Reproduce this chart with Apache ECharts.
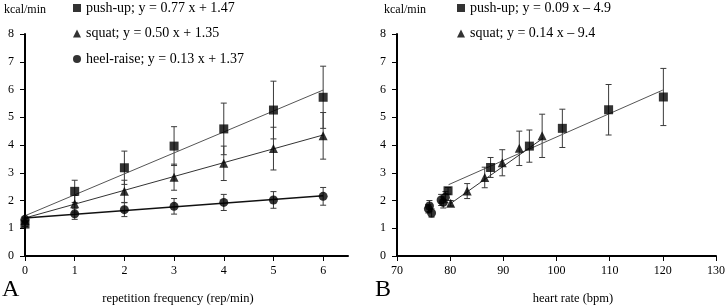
<!DOCTYPE html>
<html><head><meta charset="utf-8">
<script src="https://cdn.jsdelivr.net/npm/echarts@6/dist/echarts.min.js"></script>
<style>html,body{margin:0;padding:0;background:#fff}#c{width:728px;height:306px}</style>
</head><body><div id="c"></div>
<script>
// ---- Panel A data ----
const repFreq = [0, 1, 2, 3, 4, 5, 6];
const pushA = [1.15, 2.33, 3.18, 3.96, 4.58, 5.26, 5.72];
const pushAErr = [0.08, 0.40, 0.60, 0.70, 0.93, 1.04, 1.12];
const squatA = [1.28, 1.88, 2.33, 2.84, 3.34, 3.87, 4.33];
const squatAErr = [0.08, 0.30, 0.40, 0.47, 0.62, 0.77, 0.84];
const heelA = [1.32, 1.52, 1.67, 1.79, 1.93, 2.02, 2.15];
const heelAErr = [0.08, 0.20, 0.25, 0.28, 0.29, 0.30, 0.32];
const pushAFit = [[0, 1.45], [6, 5.98]];
const squatAFit = [[0, 1.37], [6, 4.36]];
const heelAFit = [[0, 1.37], [6, 2.17]];
// ---- Panel B data ----
const pushHR = [79.6, 87.6, 94.9, 101.1, 109.8, 120.1];
const pushB = [2.35, 3.19, 3.96, 4.60, 5.27, 5.73];
const pushBErr = [0.12, 0.36, 0.58, 0.69, 0.91, 1.03];
const squatHR = [80.1, 83.2, 86.5, 89.8, 93.0, 97.3];
const squatB = [1.90, 2.34, 2.83, 3.36, 3.88, 4.33];
const squatBErr = [0.10, 0.27, 0.37, 0.47, 0.62, 0.78];
const heelHR = [75.9, 76.1, 76.5, 78.3, 78.7, 79.1];
const heelB = [1.70, 1.80, 1.55, 2.02, 1.93, 2.12];
const heelBErr = [0.15, 0.20, 0.15, 0.20, 0.20, 0.20];
const pushBFit = [[79.7, 2.57], [120, 5.98]];
const squatBFit = [[80.0, 1.88], [97.5, 4.25]];
// ---- labels ----
const legendA = ['push-up; y = 0.77 x + 1.47', 'squat; y = 0.50 x + 1.35', 'heel-raise; y = 0.13 x + 1.37'];
const legendB = ['push-up; y = 0.09 x – 4.9', 'squat; y = 0.14 x – 9.4'];
const yTicks = [0, 8, 1];
const xTicksA = [0, 6.5, 1];
const xTicksB = [70, 130, 10];

const FONT = '"Liberation Serif", "DejaVu Serif", serif';
const chart = echarts.init(document.getElementById('c'));

function pairs(xs, ys) { return xs.map((x, i) => [x, ys[i]]); }
function errData(xs, ys, es) { return xs.map((x, i) => [x, ys[i], es[i]]); }
function errSeries(xi, data) {
  return {
    type: 'custom', xAxisIndex: xi, yAxisIndex: xi, z: 2, silent: true,
    data: data,
    renderItem: function (params, api) {
      const x = api.value(0), y = api.value(1), e = api.value(2);
      const hi = api.coord([x, y + e]), lo = api.coord([x, y - e]);
      const st = { stroke: '#3a3a3a', lineWidth: 1 };
      const w = 3;
      return { type: 'group', children: [
        { type: 'line', shape: { x1: hi[0], y1: hi[1], x2: lo[0], y2: lo[1] }, style: st },
        { type: 'line', shape: { x1: hi[0] - w, y1: hi[1], x2: hi[0] + w, y2: hi[1] }, style: st },
        { type: 'line', shape: { x1: lo[0] - w, y1: lo[1], x2: lo[0] + w, y2: lo[1] }, style: st }
      ]};
    }
  };
}
function fitSeries(xi, data, color, width) {
  return { type: 'line', xAxisIndex: xi, yAxisIndex: xi, data: data, showSymbol: false, silent: true, z: 3,
    lineStyle: { color: color, width: width }, animation: false };
}
function scat(xi, name, data, symbol, size) {
  return { type: 'scatter', name: name, xAxisIndex: xi, yAxisIndex: xi, data: data, symbol: symbol,
    symbolSize: size, itemStyle: { color: '#000' }, z: 4, silent: true };
}
const axisLbl = { color: '#000', fontFamily: FONT, fontSize: 12 };
function yAxis(gi) {
  return { type: 'value', gridIndex: gi, min: yTicks[0], max: yTicks[1], interval: yTicks[2],
    axisLine: { show: true, lineStyle: { color: '#000', width: 2 } },
    axisTick: { show: true, length: 5, lineStyle: { color: '#000', width: 1 } },
    splitLine: { show: false }, axisLabel: Object.assign({ margin: 11 }, axisLbl) };
}
function xAxis(gi, t) {
  return { type: 'value', gridIndex: gi, min: t[0], max: t[1], interval: t[2],
    axisLine: { show: true, onZero: false, lineStyle: { color: '#000', width: 2 } },
    axisTick: { show: true, length: 5, lineStyle: { color: '#000', width: 1 } },
    splitLine: { show: false },
    axisLabel: Object.assign({ margin: 9, showMaxLabel: t[1] % t[2] === 0,
      formatter: v => (v % t[2] === 0 ? String(v) : '') }, axisLbl) };
}
const legendText = { color: '#000', fontFamily: FONT, fontSize: 14, lineHeight: 16 };

chart.setOption({
  animation: false,
  backgroundColor: '#fff',
  grid: [
    { left: 25, top: 34, width: 323, height: 222 },
    { left: 397, top: 34, width: 322, height: 222 }
  ],
  xAxis: [xAxis(0, xTicksA), xAxis(1, xTicksB)],
  yAxis: [yAxis(0), yAxis(1)],
  legend: [
    { data: legendA.map((n, i) => ({ name: n, icon: ['rect', 'triangle', 'circle'][i] })),
      orient: 'vertical', left: 73, top: 0, padding: 0, itemGap: 9.5, itemWidth: 8, itemHeight: 8,
      textStyle: legendText, selectedMode: false },
    { data: legendB.map((n, i) => ({ name: n, icon: ['rect', 'triangle'][i] })),
      orient: 'vertical', left: 457, top: 0, padding: 0, itemGap: 9.5, itemWidth: 8, itemHeight: 8,
      textStyle: legendText, selectedMode: false }
  ],
  graphic: [
    { type: 'text', left: 4, top: 4, style: { text: 'kcal/min', fill: '#000', font: '12px ' + FONT } },
    { type: 'text', left: 384, top: 4, style: { text: 'kcal/min', fill: '#000', font: '12px ' + FONT } },
    { type: 'text', left: 2, top: 278, style: { text: 'A', fill: '#000', font: '24px ' + FONT } },
    { type: 'text', left: 375, top: 278, style: { text: 'B', fill: '#000', font: '24px ' + FONT } },
    { type: 'text', x: 178, y: 299, style: { text: 'repetition frequency (rep/min)', fill: '#000', font: '12.5px ' + FONT, align: 'center', verticalAlign: 'middle' } },
    { type: 'text', x: 573, y: 299, style: { text: 'heart rate (bpm)', fill: '#000', font: '12.5px ' + FONT, align: 'center', verticalAlign: 'middle' } }
  ],
  series: [
    errSeries(0, errData(repFreq, pushA, pushAErr)),
    errSeries(0, errData(repFreq, squatA, squatAErr)),
    errSeries(0, errData(repFreq, heelA, heelAErr)),
    fitSeries(0, pushAFit, '#555', 1),
    fitSeries(0, squatAFit, '#333', 1),
    fitSeries(0, heelAFit, '#111', 1.5),
    scat(0, legendA[0], pairs(repFreq, pushA), 'rect', 9),
    scat(0, legendA[1], pairs(repFreq, squatA), 'triangle', 9),
    scat(0, legendA[2], pairs(repFreq, heelA), 'circle', 9),
    errSeries(1, errData(pushHR, pushB, pushBErr)),
    errSeries(1, errData(squatHR, squatB, squatBErr)),
    errSeries(1, errData(heelHR, heelB, heelBErr)),
    fitSeries(1, pushBFit, '#555', 1),
    fitSeries(1, squatBFit, '#333', 1),
    scat(1, legendB[0], pairs(pushHR, pushB), 'rect', 9),
    scat(1, legendB[1], pairs(squatHR, squatB), 'triangle', 9),
    scat(1, 'heel-raise B', pairs(heelHR, heelB), 'circle', 9)
  ]
});
</script></body></html>
